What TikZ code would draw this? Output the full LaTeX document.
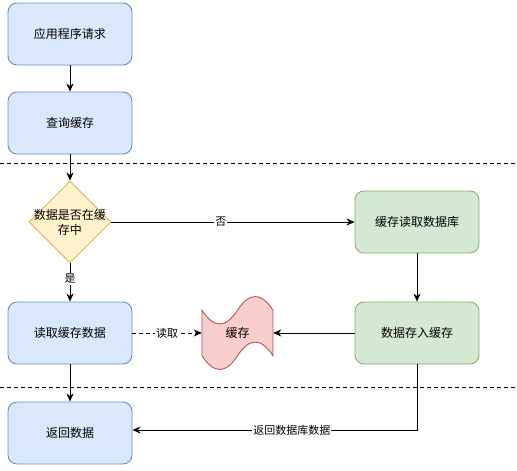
\documentclass[tikz,border=0pt]{standalone}
\usepackage{fontspec}
\setmainfont{Noto Sans CJK SC}
\usetikzlibrary{arrows.meta,shapes.geometric}
\definecolor{bfill}{HTML}{DAE8FC}
\definecolor{bdraw}{HTML}{6C8EBF}
\definecolor{gfill}{HTML}{D5E8D4}
\definecolor{gdraw}{HTML}{82B366}
\definecolor{yfill}{HTML}{FFF2CC}
\definecolor{ydraw}{HTML}{D6B656}
\definecolor{rfill}{HTML}{F8CECC}
\definecolor{rdraw}{HTML}{B85450}
\begin{document}
\begin{tikzpicture}[x=1pt,y=-1pt,
  font=\fontsize{12pt}{15pt}\selectfont,
  box/.style={draw, rounded corners=9pt, minimum width=124pt, minimum height=62pt, line width=0.9pt, align=center, inner sep=2pt},
  bluebox/.style={box, fill=bfill, draw=bdraw},
  greenbox/.style={box, fill=gfill, draw=gdraw},
  arr/.style={line width=0.9pt, -{Stealth[length=8pt,width=7pt,inset=2.5pt]}},
  lbl/.style={fill=white, inner sep=1pt, font=\fontsize{11pt}{13pt}\selectfont},
  sep/.style={line width=0.9pt, dash pattern=on 3.5pt off 3.5pt}
]
\useasboundingbox (0,0) rectangle (517,471);

% separators
\draw[sep] (0,163) -- (517,163);
\draw[sep] (0,387) -- (517,387);

% nodes
\node[bluebox] (app) at (70,34) {应用程序请求};
\node[bluebox] (query) at (70,123) {查询缓存};
\node[draw=ydraw, fill=yfill, line width=0.9pt, shape=diamond, aspect=1, minimum width=82pt, minimum height=82pt, inner sep=0pt,
      label={[align=center, font=\fontsize{12pt}{15pt}\selectfont]center:数据是否在缓\\存中}] (dec) at (70,222) {};
\node[greenbox] (g1) at (417,222) {缓存读取数据库};
\node[greenbox] (g2) at (417,333) {数据存入缓存};
\node[bluebox] (readc) at (70,333) {读取缓存数据};
\node[bluebox] (ret) at (70,433) {返回数据};

% cache (tape shape)
\filldraw[fill=rfill, draw=rdraw, line width=0.9pt]
  (202,310.2) .. controls (213.83,328.44) and (225.67,328.44) .. (237.5,310.2)
  .. controls (249.33,291.96) and (261.17,291.96) .. (273,310.2)
  -- (273,355.8)
  .. controls (261.17,337.56) and (249.33,337.56) .. (237.5,355.8)
  .. controls (225.67,374.04) and (213.83,374.04) .. (202,355.8) -- cycle;
\node[minimum width=71pt, minimum height=76pt, inner sep=0pt] (cache) at (237.5,333) {缓存};

% connectors
\draw[arr] (app) -- (query);
\draw[arr] (query) -- (dec);
\draw[arr] (dec) -- node[lbl, pos=0.45] {否} (g1);
\draw[arr] (dec) -- node[lbl, pos=0.4] {是} (readc);
\draw[arr] (g1) -- (g2);
\draw[arr] (g2) -- (cache);
\draw[arr, dash pattern=on 3.5pt off 3.5pt] (readc) -- node[lbl] {读取} (cache);
\draw[arr] (readc) -- (ret);
\coordinate (turn) at (417,430);
\draw[arr] (g2.south) -- (turn) -- node[lbl, pos=0.44] {返回数据库数据} (ret.east |- turn);
\end{tikzpicture}
\end{document}
